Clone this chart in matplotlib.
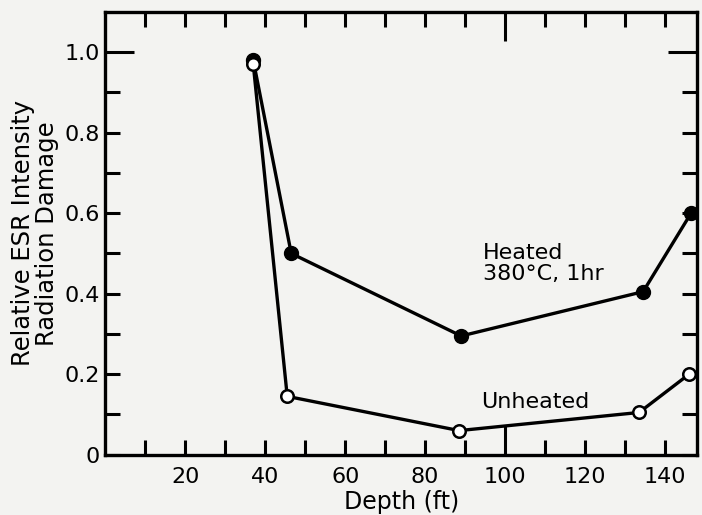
import matplotlib
matplotlib.use("Agg")
import matplotlib.pyplot as plt

# Data (depth in ft, relative ESR intensity)
heated_depth = [37, 46.5, 89, 134.5, 146.5]
heated_val = [0.98, 0.50, 0.295, 0.405, 0.60]
unheated_depth = [37, 45.5, 88.5, 133.5, 146]
unheated_val = [0.97, 0.145, 0.06, 0.105, 0.20]

x_ticks = [10, 20, 30, 40, 50, 60, 70, 80, 90, 100, 110, 120, 130, 140]
x_labels = ["", "20", "", "40", "", "60", "", "80", "", "100", "", "120", "", "140"]
y_ticks = [0, 0.1, 0.2, 0.3, 0.4, 0.5, 0.6, 0.7, 0.8, 0.9, 1.0]
y_labels = ["0", "", "0.2", "", "0.4", "", "0.6", "", "0.8", "", "1.0"]

bg = "#f3f3f1"
fig = plt.figure(figsize=(7.02, 5.15), dpi=100, facecolor=bg)
ax = fig.add_axes([0.150, 0.117, 0.843, 0.860], facecolor=bg)

ax.plot(heated_depth, heated_val, color="black", lw=2.4, marker="o", ms=10,
        mfc="black", mec="black", zorder=3)
ax.plot(unheated_depth, unheated_val, color="black", lw=2.4, marker="o", ms=9,
        mfc="white", mec="black", mew=1.8, zorder=3)

ax.set_xlim(0, 148)
ax.set_ylim(0, 1.1)

for s in ax.spines.values():
    s.set_linewidth(2.4)

ax.set_xticks(x_ticks)
ax.set_xticklabels(x_labels)
ax.set_yticks(y_ticks)
ax.set_yticklabels(y_labels)
ax.tick_params(axis="both", which="major", direction="in", length=11, width=2.2,
               top=True, right=True, labelsize=16)
ax.tick_params(axis="x", pad=9)
ax.tick_params(axis="y", pad=4)

for t in ax.xaxis.get_major_ticks():
    if abs(t.get_loc() - 100) < 1e-6:
        t.tick1line.set_markersize(21)
        t.tick2line.set_markersize(21)
for t in ax.yaxis.get_major_ticks():
    if abs(t.get_loc() - 1.0) < 1e-6:
        t.tick1line.set_markersize(21)
        t.tick2line.set_markersize(21)

ax.set_xlabel("Depth (ft)", fontsize=17, labelpad=2)
ax.set_ylabel("Relative ESR Intensity\nRadiation Damage", fontsize=17.5, labelpad=4,
              linespacing=1.0)

ax.text(94.5, 0.525, "Heated\n380\u00b0C, 1hr", fontsize=16, ha="left", va="top",
        linespacing=1.05)
ax.text(94.0, 0.13, "Unheated", fontsize=16, ha="left", va="center")

fig.savefig("out.png", dpi=100, facecolor=bg)
